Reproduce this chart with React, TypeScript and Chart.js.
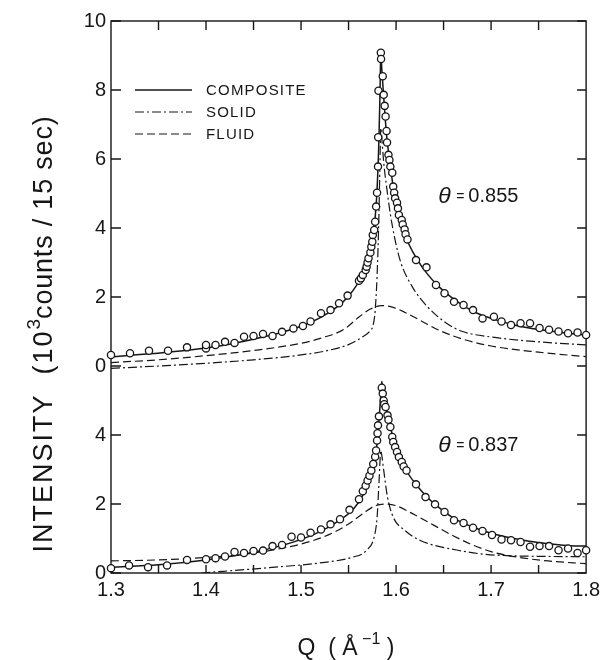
import React, { useEffect, useRef } from "react";
import { Chart, registerables } from "chart.js";

Chart.register(...registerables);

// ---- data ----
// Upper panel (theta = 0.855) is drawn on the shared axis raised by TOP_OFFSET units.
const TOP_OFFSET = 6;

const xTickValues = [1.3, 1.4, 1.5, 1.6, 1.7, 1.8];
const xMinorTickValues = [1.35, 1.4, 1.45, 1.5, 1.55, 1.6, 1.65, 1.7, 1.75];
const yTickValues = [0, 2, 4, 6, 8, 10, 12, 14, 16];
const yTickLabels = ["0", "2", "4", "0", "2", "4", "6", "8", "10"];

const seriesNames = ["COMPOSITE", "SOLID", "FLUID"];
const annotations = ["0.855", "0.837"];

// upper panel measured points
const topPointQ = [1.3, 1.32, 1.34, 1.36, 1.38, 1.4, 1.4, 1.41, 1.42, 1.43, 1.44, 1.45, 1.46, 1.47, 1.48,
  1.492, 1.502, 1.51, 1.521, 1.531, 1.54, 1.549, 1.561, 1.563, 1.565, 1.568, 1.569, 1.57, 1.571, 1.573,
  1.574, 1.575, 1.5755, 1.577, 1.578, 1.579, 1.58, 1.581, 1.5812, 1.5815, 1.584, 1.5842, 1.586, 1.587,
  1.588, 1.589, 1.59, 1.5905, 1.592, 1.593, 1.594, 1.596, 1.597, 1.598, 1.599, 1.601, 1.602, 1.603,
  1.606, 1.607, 1.609, 1.61, 1.612, 1.621, 1.632, 1.642, 1.651, 1.661, 1.671, 1.681, 1.691, 1.703,
  1.711, 1.721, 1.731, 1.741, 1.751, 1.761, 1.771, 1.781, 1.791, 1.8];
const topPointI = [0.32, 0.37, 0.44, 0.44, 0.54, 0.51, 0.61, 0.61, 0.7, 0.67, 0.85, 0.87, 0.93, 0.87, 0.99,
  1.09, 1.16, 1.29, 1.53, 1.62, 1.82, 2.04, 2.47, 2.54, 2.64, 2.78, 2.88, 3.0, 3.12, 3.29,
  3.46, 3.6, 3.8, 3.94, 4.18, 4.62, 5.02, 5.78, 6.63, 7.98, 9.08, 8.9, 8.4, 7.86,
  7.54, 7.23, 6.81, 6.48, 6.12, 5.97, 5.78, 5.6, 5.2, 5.02, 4.86, 4.73, 4.57, 4.38,
  4.23, 4.1, 3.96, 3.82, 3.67, 3.07, 2.86, 2.35, 2.11, 1.86, 1.77, 1.62, 1.38, 1.43,
  1.29, 1.19, 1.24, 1.24, 1.1, 1.05, 1.0, 0.95, 0.97, 0.9];

// upper panel fitted curves
const topCompositeQ = [1.3, 1.33, 1.36, 1.4, 1.43, 1.46, 1.49, 1.51, 1.53, 1.545, 1.555, 1.563, 1.569, 1.573,
  1.576, 1.578, 1.58, 1.582, 1.583, 1.584, 1.585, 1.587, 1.59, 1.594, 1.598, 1.603, 1.608, 1.614, 1.622,
  1.632, 1.645, 1.66, 1.68, 1.7, 1.72, 1.74, 1.76, 1.78, 1.8];
const topCompositeI = [0.26, 0.33, 0.4, 0.52, 0.66, 0.84, 1.06, 1.26, 1.56, 1.88, 2.2, 2.55, 2.95, 3.35,
  3.8, 4.3, 5.1, 6.6, 7.8, 9.1, 8.6, 7.8, 6.7, 5.8, 5.0, 4.35, 3.9, 3.5, 3.1,
  2.7, 2.3, 1.95, 1.6, 1.38, 1.22, 1.1, 1.02, 0.95, 0.9];

const topSolidQ = [1.3, 1.35, 1.4, 1.45, 1.5, 1.53, 1.55, 1.565, 1.572, 1.576, 1.578, 1.58, 1.582, 1.583,
  1.584, 1.585, 1.587, 1.59, 1.594, 1.599, 1.605, 1.617, 1.633, 1.653, 1.67, 1.7, 1.75, 1.8];
const topSolidI = [-0.07, 0.0, 0.08, 0.18, 0.32, 0.46, 0.62, 0.85, 1.0, 1.2, 1.6, 2.6, 4.4, 5.8,
  6.9, 6.6, 5.9, 5.2, 4.4, 3.65, 3.0, 2.3, 1.72, 1.24, 1.0, 0.84, 0.7, 0.61];

const topFluidQ = [1.3, 1.35, 1.4, 1.45, 1.5, 1.525, 1.545, 1.561, 1.573, 1.585, 1.597, 1.609, 1.625,
  1.645, 1.67, 1.7, 1.75, 1.8];
const topFluidI = [0.1, 0.18, 0.3, 0.45, 0.66, 0.84, 1.06, 1.42, 1.65, 1.75, 1.7, 1.56, 1.33,
  1.04, 0.78, 0.58, 0.4, 0.27];

// lower panel measured points
const botPointQ = [1.3, 1.319, 1.339, 1.359, 1.38, 1.4, 1.41, 1.42, 1.43, 1.44, 1.45, 1.46, 1.47, 1.48,
  1.49, 1.5, 1.51, 1.521, 1.531, 1.541, 1.551, 1.561, 1.565, 1.568, 1.57, 1.572, 1.574, 1.576, 1.578,
  1.579, 1.58, 1.5805, 1.581, 1.582, 1.585, 1.586, 1.587, 1.5875, 1.589, 1.591, 1.592, 1.594, 1.596,
  1.597, 1.599, 1.601, 1.603, 1.606, 1.608, 1.611, 1.621, 1.631, 1.641, 1.651, 1.661, 1.671, 1.681,
  1.691, 1.701, 1.711, 1.721, 1.731, 1.741, 1.751, 1.761, 1.771, 1.781, 1.791, 1.8];
const botPointI = [0.14, 0.22, 0.17, 0.22, 0.38, 0.4, 0.43, 0.48, 0.61, 0.58, 0.64, 0.65, 0.78, 0.81,
  1.05, 1.03, 1.17, 1.26, 1.41, 1.56, 1.83, 2.14, 2.37, 2.53, 2.68, 2.82, 2.97, 3.16, 3.37,
  3.55, 3.84, 4.05, 4.28, 4.54, 5.37, 5.2, 5.0, 4.89, 4.81, 4.57, 4.44, 4.23, 3.94,
  3.8, 3.65, 3.51, 3.36, 3.22, 3.09, 2.97, 2.57, 2.2, 1.99, 1.77, 1.53, 1.45, 1.31,
  1.22, 1.1, 0.97, 0.95, 0.9, 0.76, 0.78, 0.78, 0.66, 0.71, 0.58, 0.66];

// lower panel fitted curves
const botCompositeQ = [1.3, 1.35, 1.4, 1.45, 1.49, 1.52, 1.54, 1.555, 1.565, 1.572, 1.577, 1.58, 1.582,
  1.584, 1.585, 1.586, 1.588, 1.592, 1.597, 1.603, 1.61, 1.62, 1.632, 1.645, 1.66, 1.68, 1.7, 1.72,
  1.74, 1.76, 1.78, 1.8];
const botCompositeI = [0.17, 0.24, 0.38, 0.6, 0.88, 1.2, 1.52, 1.85, 2.25, 2.7, 3.2, 3.75, 4.4,
  5.2, 5.55, 5.3, 4.95, 4.5, 3.9, 3.4, 3.0, 2.6, 2.22, 1.9, 1.6, 1.34, 1.15, 1.02,
  0.92, 0.85, 0.8, 0.78];

const botSolidQ = [1.395, 1.464, 1.525, 1.553, 1.569, 1.577, 1.58, 1.582, 1.584, 1.585, 1.587, 1.591,
  1.597, 1.609, 1.625, 1.665, 1.704, 1.8];
const botSolidI = [0.0, 0.15, 0.31, 0.45, 0.66, 1.05, 1.6, 2.6, 3.55, 3.4, 2.98, 2.2,
  1.62, 1.24, 0.95, 0.66, 0.52, 0.47];

const botFluidQ = [1.3, 1.35, 1.4, 1.45, 1.5, 1.53, 1.55, 1.565, 1.578, 1.59, 1.6, 1.62, 1.64, 1.66,
  1.68, 1.7, 1.73, 1.76, 1.8];
const botFluidI = [0.35, 0.38, 0.45, 0.58, 0.84, 1.12, 1.42, 1.72, 1.95, 2.0, 1.95, 1.68, 1.38, 1.08,
  0.82, 0.62, 0.45, 0.35, 0.27];

// ---- styles ----
const INK = "#161616";
const DASH_DOT = [9, 3, 2, 3];
const DASHED = [8, 4];
const FONT = "'Liberation Sans', Arial, sans-serif";

const toPts = (qs: number[], vs: number[], off: number) =>
  qs.map((q, i) => ({ x: q, y: vs[i] + off }));

function curve(qs: number[], vs: number[], off: number, dash: number[], width: number) {
  return {
    data: toPts(qs, vs, off),
    showLine: true,
    borderColor: INK,
    borderWidth: width,
    borderDash: dash,
    pointRadius: 0,
    pointHoverRadius: 0,
    cubicInterpolationMode: "monotone" as const,
    fill: false,
    order: 2,
  };
}

function points(qs: number[], vs: number[], off: number) {
  return {
    data: toPts(qs, vs, off),
    showLine: false,
    pointStyle: "circle" as const,
    pointRadius: 3.6,
    pointBorderWidth: 1.3,
    pointBorderColor: INK,
    pointBackgroundColor: "#ffffff",
    clip: false as const,
    order: 1,
  };
}

const decor = {
  id: "decor",
  beforeDatasetsDraw(chart: any) {
    const { ctx, chartArea: a, scales } = chart;
    const x = scales.x;
    const y = scales.y;
    ctx.save();
    ctx.strokeStyle = INK;
    ctx.lineWidth = 1.4;
    ctx.setLineDash([]);
    ctx.strokeRect(a.left, a.top, a.right - a.left, a.bottom - a.top);
    ctx.beginPath();
    for (const q of xMinorTickValues) {
      const px = x.getPixelForValue(q);
      ctx.moveTo(px, a.top);
      ctx.lineTo(px, a.top + 9);
      ctx.moveTo(px, a.bottom);
      ctx.lineTo(px, a.bottom - 8);
    }
    for (const v of yTickValues) {
      const py = y.getPixelForValue(v);
      ctx.moveTo(a.left, py);
      ctx.lineTo(a.left + 10, py);
      ctx.moveTo(a.right, py);
      ctx.lineTo(a.right - 9, py);
    }
    ctx.stroke();
    ctx.restore();
  },
  afterDraw(chart: any) {
    const { ctx, scales } = chart;
    const x = scales.x;
    const y = scales.y;
    ctx.save();
    ctx.fillStyle = INK;
    ctx.strokeStyle = INK;

    // legend
    const lx0 = 135, lx1 = 192, tx = 206;
    const rows = [
      { dash: [] as number[], w: 1.5 },
      { dash: DASH_DOT, w: 1.2 },
      { dash: DASHED, w: 1.2 },
    ];
    ctx.font = `15px ${FONT}`;
    ctx.textBaseline = "middle";
    ctx.textAlign = "left";
    rows.forEach((r, i) => {
      const ly = 90 + i * 22;
      ctx.beginPath();
      ctx.setLineDash(r.dash);
      ctx.lineWidth = r.w;
      ctx.moveTo(lx0, ly);
      ctx.lineTo(lx1, ly);
      ctx.stroke();
      (ctx as any).letterSpacing = "1.2px";
      ctx.fillText(seriesNames[i], tx, ly + 1);
      (ctx as any).letterSpacing = "0px";
    });
    ctx.setLineDash([]);

    // theta annotations
    const drawTheta = (px: number, py: number, val: string) => {
      ctx.textBaseline = "alphabetic";
      ctx.font = `italic 23px ${FONT}`;
      ctx.fillText("\u03b8", px, py + 8);
      ctx.font = `14px ${FONT}`;
      ctx.fillText("=", px + 18, py + 6);
      ctx.font = `20px ${FONT}`;
      ctx.fillText(val, px + 30, py + 7);
    };
    const ax = x.getPixelForValue(1.6445);
    drawTheta(ax, y.getPixelForValue(4.95 + TOP_OFFSET), annotations[0]);
    drawTheta(ax, y.getPixelForValue(3.75), annotations[1]);

    // y axis title (rotated)
    ctx.save();
    ctx.translate(52, 334);
    ctx.rotate(-Math.PI / 2);
    ctx.textBaseline = "alphabetic";
    const parts: { t: string; size: number; dy: number; sp: number }[] = [
      { t: "INTENSITY  (10", size: 27, dy: 0, sp: 2 },
      { t: "3", size: 19, dy: -12, sp: 0 },
      { t: "counts / 15 sec)", size: 27, dy: 0, sp: 0.8 },
    ];
    let total = 0;
    for (const p of parts) {
      ctx.font = `${p.size}px ${FONT}`;
      (ctx as any).letterSpacing = `${p.sp}px`;
      total += ctx.measureText(p.t).width;
    }
    let cx = -total / 2;
    ctx.textAlign = "left";
    for (const p of parts) {
      ctx.font = `${p.size}px ${FONT}`;
      (ctx as any).letterSpacing = `${p.sp}px`;
      ctx.fillText(p.t, cx, p.dy);
      cx += ctx.measureText(p.t).width;
    }
    (ctx as any).letterSpacing = "0px";
    ctx.restore();

    // x axis title
    ctx.textBaseline = "alphabetic";
    ctx.textAlign = "left";
    const xp: { t: string; size: number; dy: number }[] = [
      { t: "Q  ( \u00c5", size: 23, dy: 0 },
      { t: " \u22121", size: 16, dy: -11 },
      { t: " )", size: 23, dy: 0 },
    ];
    let xt = 0;
    for (const p of xp) {
      ctx.font = `${p.size}px ${FONT}`;
      xt += ctx.measureText(p.t).width;
    }
    let xx = 346 - xt / 2;
    for (const p of xp) {
      ctx.font = `${p.size}px ${FONT}`;
      ctx.fillText(p.t, xx, 655 + p.dy);
      xx += ctx.measureText(p.t).width;
    }
    ctx.restore();
  },
};

export default function App() {
  const ref = useRef<HTMLCanvasElement | null>(null);

  useEffect(() => {
    if (!ref.current) return;
    const chart = new Chart(ref.current, {
      type: "scatter",
      data: {
        datasets: [
          points(topPointQ, topPointI, TOP_OFFSET),
          points(botPointQ, botPointI, 0),
          curve(topCompositeQ, topCompositeI, TOP_OFFSET, [], 1.5),
          curve(topSolidQ, topSolidI, TOP_OFFSET, DASH_DOT, 1.2),
          curve(topFluidQ, topFluidI, TOP_OFFSET, DASHED, 1.2),
          curve(botCompositeQ, botCompositeI, 0, [], 1.5),
          curve(botSolidQ, botSolidI, 0, DASH_DOT, 1.2),
          curve(botFluidQ, botFluidI, 0, DASHED, 1.2),
        ] as any,
      },
      options: {
        animation: false,
        responsive: false,
        maintainAspectRatio: false,
        layout: { padding: { top: 21, right: 11, left: 0, bottom: 0 } },
        plugins: {
          legend: { display: false },
          tooltip: { enabled: false },
          title: { display: false },
        },
        events: [],
        scales: {
          x: {
            type: "linear",
            min: 1.3,
            max: 1.8,
            grid: { display: false, drawTicks: false },
            border: { display: false },
            afterBuildTicks: (s: any) => {
              s.ticks = xTickValues.map((v) => ({ value: v }));
            },
            afterFit: (s: any) => {
              s.height = 87;
            },
            ticks: {
              padding: 5,
              color: INK,
              font: { family: FONT, size: 20 },
              callback: (v: any) => Number(v).toFixed(1),
              maxRotation: 0,
              autoSkip: false,
            },
          },
          y: {
            type: "linear",
            min: 0,
            max: 16,
            grid: { display: false, drawTicks: false },
            border: { display: false },
            afterBuildTicks: (s: any) => {
              s.ticks = yTickValues.map((v) => ({ value: v }));
            },
            afterFit: (s: any) => {
              s.width = 111;
            },
            ticks: {
              padding: 5,
              color: INK,
              font: { family: FONT, size: 20 },
              autoSkip: false,
              callback: (v: any) => {
                const i = yTickValues.indexOf(Number(v));
                return i >= 0 ? yTickLabels[i] : "";
              },
            },
          },
        },
      },
      plugins: [decor],
    });
    return () => chart.destroy();
  }, []);

  return (
    <div style={{ position: "absolute", left: 0, top: 0, width: 605, height: 660, background: "#fff" }}>
      <canvas ref={ref} width={605} height={660} style={{ width: 605, height: 660, display: "block" }} />
    </div>
  );
}
